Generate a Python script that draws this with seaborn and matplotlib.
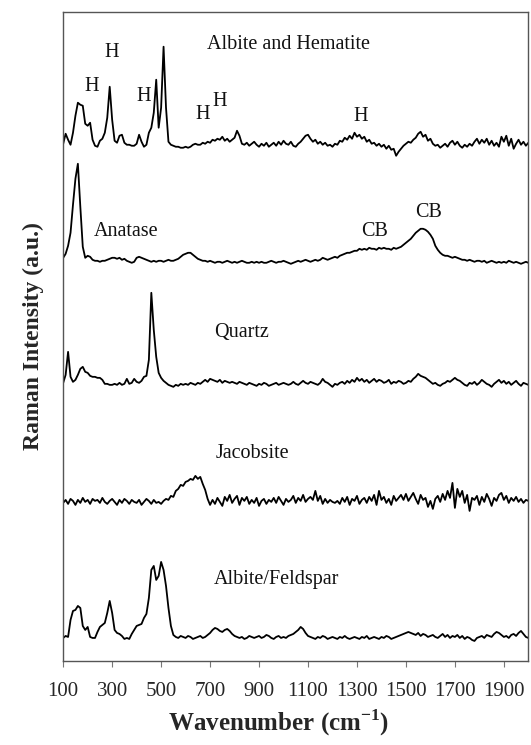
import matplotlib
matplotlib.use("Agg")
import matplotlib.pyplot as plt
import numpy as np
import pandas as pd
import seaborn as sns

# wavenumber grid (cm-1), one reading every 10 cm-1 from 100 to 2000
wavenumber = list(range(100, 2001, 10))

# heights above each trace's own baseline (a.u.)
albite_hematite = [
    4, 14, 8, 3, 15, 32, 45, 43, 42, 24,
    22, 25, 8, 2, 1, 7, 9, 15, 30, 61,
    28, 7, 5, 12, 13, 5, 3, 3, 2, 2,
    4, 13, 6, 1, 3, 15, 20, 35, 68, 20,
    40, 101, 40, 6, 3, 2, 1, 1, 0, 0,
    1, 0, 1, 3, 4, 3, 3, 5, 4, 6,
    5, 8, 7, 9, 8, 11, 7, 9, 6, 8,
    10, 17, 12, 4, 3, 5, 2, 4, 6, 3,
    1, 4, 2, 5, 1, 3, 5, 2, 6, 3,
    7, 4, 3, 6, 2, 1, 4, 6, 9, 12,
    13, 9, 6, 8, 4, 6, 3, 5, 2, 3,
    1, 4, 3, 7, 6, 10, 8, 12, 9, 15,
    11, 13, 9, 11, 6, 8, 4, 5, 2, 4,
    1, 3, -1, 2, -2, -1, -8, -4, -1, 2,
    4, 6, 5, 8, 10, 14, 16, 11, 13, 7,
    9, 4, 2, 3, 0, 2, 4, 1, 5, 7,
    3, 6, 2, 0, 3, 1, 4, 2, 6, 9,
    4, 8, 5, 9, 3, 7, 2, 5, 1, 11,
    6, 12, 2, 9, -1, 4, 8, 3, 6, 2,
    5,
]

anatase = [
    5, 9, 17, 30, 58, 84, 99, 56, 16, 5,
    7, 6, 3, 2, 2, 1, 2, 2, 3, 4,
    5, 5, 4, 5, 3, 4, 2, 1, 0, 1,
    5, 6, 5, 4, 3, 2, 1, 2, 1, 2,
    2, 1, 2, 3, 2, 2, 3, 4, 6, 8,
    9, 10, 10, 8, 6, 4, 3, 2, 2, 1,
    2, 1, 0, 1, 1, 0, 1, 2, 1, 0,
    1, 0, 1, 2, 1, 0, 0, 1, 0, 1,
    0, 1, 0, 0, 1, 2, 1, 0, 1, 1,
    2, 1, 0, -1, 0, 1, 2, 1, 2, 3,
    2, 1, 2, 3, 2, 3, 5, 4, 3, 4,
    5, 6, 5, 7, 8, 9, 10, 10, 11, 12,
    12, 14, 13, 14, 13, 15, 14, 14, 13, 15,
    14, 15, 14, 14, 13, 15, 14, 15, 16, 18,
    20, 22, 24, 27, 30, 32, 34, 34, 33, 31,
    28, 24, 17, 13, 10, 8, 7, 7, 6, 5,
    6, 5, 4, 3, 3, 2, 3, 2, 1, 2,
    2, 1, 2, 0, 1, 2, 1, 0, 1, 0,
    1, 0, 2, 1, 0, 1, 0, -1, 0, 1,
    0,
]

quartz = [
    2, 10, 33, 8, 3, 5, 10, 16, 18, 13,
    12, 9, 8, 8, 7, 7, 5, 1, 1, 0,
    0, 1, 0, 2, 0, 1, 6, 1, 2, 6,
    3, 2, 4, 8, 9, 25, 92, 55, 28, 12,
    7, 4, 2, 0, -1, -2, 0, -1, 1, 0,
    1, 0, 2, 1, 0, 2, 1, 3, 5, 3,
    6, 5, 4, 3, 5, 2, 4, 3, 2, 3,
    2, 1, 3, 2, 1, 0, 2, 1, 0, -1,
    1, 0, 2, 1, -1, 0, 1, 2, 0, 1,
    2, 1, 0, 1, 3, 1, 0, 2, 4, 2,
    1, 3, 2, 1, 0, 2, 6, 3, 2, 0,
    -2, 1, 0, 2, 3, 1, 4, 2, 5, 3,
    7, 4, 6, 3, 5, 2, 4, 6, 3, 5,
    4, 2, 3, 5, 1, 3, 2, 4, 3, 1,
    2, 4, 3, 6, 8, 11, 9, 8, 7, 5,
    3, 1, 2, 0, -1, 1, 2, 4, 3, 5,
    7, 5, 4, 2, 0, -1, 2, 1, 3, 0,
    2, 5, 3, 1, 0, -2, 1, 3, 5, 2,
    4, 1, 3, 0, 2, 4, 1, -1, 2, 1,
    0,
]

jacobsite = [
    0, 3, -1, 4, 2, -2, 3, 0, 5, 1,
    3, -1, 4, 2, 3, 0, 5, 1, -1, 2,
    4, 1, -2, 3, 0, 4, 2, -1, 3, 1,
    0, 3, -2, 1, 4, 2, -1, 3, 0, 1,
    -1, 2, 4, 3, 7, 6, 12, 14, 18, 17,
    21, 22, 24, 23, 27, 24, 26, 19, 13, 4,
    -2, 3, -1, 5, 1, -3, 6, 2, 8, 0,
    4, 7, -2, 5, 2, 6, -1, 3, 0, 5,
    -3, 2, 4, -1, 3, 1, 5, 0, 6, 2,
    -2, 4, 1, 3, 7, 0, 5, 2, 8, 1,
    4, 6, 3, 12, 2, 7, -1, 4, 0, 3,
    1, 0, 2, -1, 5, 1, 6, -2, 4, 2,
    7, -1, 3, 5, 0, 6, 2, 8, -2, 12,
    3, 6, 0, 4, -2, 7, 2, 5, 8, 3,
    9, 2, 6, 10, 4, -1, 8, 3, 5, -4,
    2, -6, 4, 7, 1, 9, 3, 12, 5, 20,
    -5, 14, 6, 12, 0, 8, -8, 5, 3, 7,
    -2, 6, 1, 9, 4, -3, 5, 2, 8, 10,
    3, 7, 0, 5, 2, 6, 1, 4, 0, 3,
    2,
]

albite_feldspar = [
    0, 2, 1, 18, 27, 28, 32, 30, 12, 8,
    11, 1, 0, 0, 6, 11, 13, 15, 25, 37,
    25, 8, 5, 4, 2, -1, 0, -1, 4, 8,
    12, 13, 14, 20, 24, 40, 68, 72, 58, 62,
    76, 68, 52, 30, 12, 3, 1, 0, 2, 1,
    0, 2, 1, -1, 0, 1, 2, 0, 1, 3,
    5, 8, 10, 9, 7, 6, 8, 9, 7, 4,
    2, 1, 0, 1, -1, 0, 2, 1, 0, 1,
    2, 0, 1, 3, 2, 0, -1, 1, 2, 0,
    1, 0, 2, 3, 4, 6, 8, 11, 9, 5,
    2, 1, 0, -1, 1, 0, 2, 1, -1, 0,
    1, 0, -1, 1, 0, 2, 0, -1, 0, 1,
    0, -1, 1, 0, 2, -1, 0, 1, 0, -1,
    1, 0, 2, 1, -1, 0, 1, 2, 3, 4,
    5, 6, 5, 4, 3, 5, 2, 4, 3, 1,
    2, 3, 1, 0, 2, 4, 1, 3, 0, 2,
    1, 3, 0, 2, -1, 1, 0, -2, -3, 0,
    1, 2, 0, 3, 2, 1, 4, 6, 5, 3,
    1, 2, 0, 3, 4, 2, 5, 7, 4, 1,
    0,
]

sample_names = ["Albite and Hematite", "Anatase", "Quartz", "Jacobsite", "Albite/Feldspar"]
sample_offsets = [513, 398, 276, 158, 23]

# peak labels: (text, wavenumber, height on the plot)
peak_labels = [
    ("Albite and Hematite", 1020, 616),
    ("H", 297, 608), ("H", 216, 574), ("H", 429, 564),
    ("H", 671, 546), ("H", 741, 559), ("H", 1317, 544),
    ("Anatase", 358, 429),
    ("CB", 1370, 429), ("CB", 1594, 448),
    ("Quartz", 827, 328),
    ("Jacobsite", 872, 207),
    ("Albite/Feldspar", 970, 81),
]

x_ticks = [100, 300, 500, 700, 900, 1100, 1300, 1500, 1700, 1900]

series = [albite_hematite, anatase, quartz, jacobsite, albite_feldspar]
frames = []
for name, off, vals in zip(sample_names, sample_offsets, series):
    frames.append(pd.DataFrame({"wavenumber": wavenumber,
                                "intensity": np.array(vals) + off,
                                "sample": name}))
df = pd.concat(frames, ignore_index=True)

sns.set_style("white")
plt.rcParams["font.family"] = ["Liberation Serif", "DejaVu Serif"]

fig = plt.figure(figsize=(5.31, 7.45), dpi=100)
ax = fig.add_axes([0.119, 0.1128, 0.876, 0.8715])

sns.lineplot(data=df, x="wavenumber", y="intensity", units="sample",
             estimator=None, color="black", linewidth=1.3, ax=ax)

for txt, xv, yv in peak_labels:
    ax.text(xv, yv, txt, ha="center", va="center", fontsize=14.5, color="#111111")

ax.set_xlim(100, 2000)
ax.set_ylim(0, 649)
ax.set_xticks(x_ticks)
ax.set_yticks([])
ax.tick_params(axis="x", direction="out", length=4, width=0.8, color="#777777",
               labelsize=15, pad=11.5, bottom=True)
for s in ax.spines.values():
    s.set_color("#555555")
    s.set_linewidth(1.0)

ax.set_xlabel("Wavenumber (cm$^{\\mathregular{-1}}$)", fontsize=18, fontweight="bold")
ax.xaxis.set_label_coords(0.463, -0.072)
ax.set_ylabel("Raman Intensity (a.u.)", fontsize=17, fontweight="bold", labelpad=14)

fig.savefig("out.png", dpi=100)
